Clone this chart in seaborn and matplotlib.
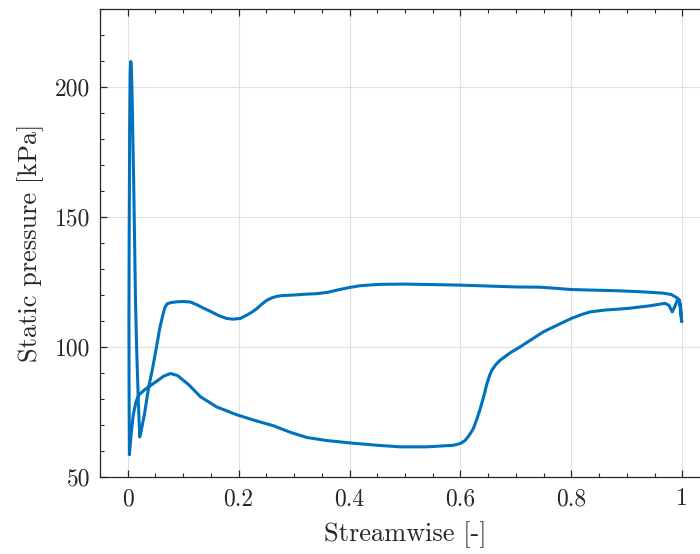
import matplotlib
matplotlib.use("Agg")
import matplotlib.pyplot as plt
import seaborn as sns
import pandas as pd
from matplotlib.ticker import MultipleLocator

# Upper branch (pressure side), trailing edge -> leading edge, then leading-edge spike
x_upper = [0.999, 0.997, 0.995, 0.990, 0.980, 0.966, 0.930, 0.888, 0.800, 0.770, 0.744, 0.700,
           0.600, 0.500, 0.455, 0.420, 0.400, 0.380, 0.360, 0.340, 0.320, 0.300, 0.280, 0.269,
           0.260, 0.251, 0.242, 0.233, 0.224, 0.215, 0.203, 0.190, 0.178, 0.165, 0.150, 0.140,
           0.125, 0.113, 0.100, 0.090, 0.078, 0.071, 0.067, 0.063, 0.058, 0.053, 0.045, 0.038,
           0.030, 0.024, 0.0216, 0.019, 0.016, 0.014, 0.011, 0.008, 0.0065, 0.0055, 0.0045,
           0.0035, 0.0026, 0.0022, 0.0025, 0.003]
p_upper = [109.8, 115.0, 117.5, 119.0, 120.2, 120.7, 121.2, 121.6, 122.1, 122.6, 123.0, 123.1,
           123.8, 124.2, 124.1, 123.6, 122.9, 122.0, 121.0, 120.5, 120.3, 120.0, 119.8, 119.5,
           118.9, 118.0, 116.5, 114.8, 113.4, 112.3, 111.0, 110.7, 111.0, 112.0, 113.6, 114.6,
           116.2, 117.3, 117.5, 117.4, 117.1, 116.6, 115.2, 112.0, 107.5, 101.4, 92.0, 84.8,
           74.0, 67.5, 65.4, 80.0, 100.0, 118.0, 160.0, 195.0, 208.0, 209.8, 206.0,
           185.0, 140.0, 110.0, 80.0, 58.6]

# Lower branch (suction side), leading edge -> trailing edge
x_lower = [0.003, 0.006, 0.010, 0.015, 0.020, 0.030, 0.050, 0.065, 0.077, 0.090, 0.110,
           0.131, 0.160, 0.197, 0.230, 0.263, 0.293, 0.323, 0.360, 0.401, 0.450, 0.491,
           0.540, 0.587, 0.600, 0.608, 0.615, 0.623, 0.630, 0.635, 0.642, 0.648, 0.653, 0.657,
           0.664, 0.672, 0.690, 0.708, 0.750, 0.800, 0.820, 0.834, 0.860, 0.900, 0.940, 0.969,
           0.976, 0.982, 0.987, 0.992, 0.995, 0.999]
p_lower = [58.6, 66.0, 74.0, 79.0, 81.5, 83.5, 86.5, 88.8, 89.8, 89.0, 85.5,
           80.9, 77.0, 73.9, 71.7, 69.7, 67.2, 65.2, 64.0, 63.1, 62.2, 61.6,
           61.6, 62.2, 62.9, 64.0, 65.8, 68.5, 72.5, 75.8, 81.0, 86.1, 89.3, 91.2,
           93.3, 95.0, 97.8, 100.1, 105.9, 111.0, 112.6, 113.5, 114.2, 114.8, 115.8, 116.8,
           116.0, 113.5, 115.8, 118.5, 118.0, 109.8]

x_ticks = [0, 0.2, 0.4, 0.6, 0.8, 1]
x_tick_labels = ["0", "0.2", "0.4", "0.6", "0.8", "1"]
y_ticks = [50, 100, 150, 200]
y_tick_labels = ["50", "100", "150", "200"]

df = pd.DataFrame({
    "x": x_upper + x_lower,
    "p": p_upper + p_lower,
})

sns.set_theme(style="white")
plt.rcParams["font.family"] = ["cmr10", "DejaVu Serif"]
plt.rcParams["axes.formatter.use_mathtext"] = True
plt.rcParams["axes.unicode_minus"] = False

fig = plt.figure(figsize=(7.0, 5.54), dpi=100)
ax = fig.add_axes([100 / 700, 77 / 554, 610 / 700, 468 / 554])

sns.lineplot(data=df, x="x", y="p", sort=False, estimator=None, ax=ax,
             color="#0072BD", linewidth=2.2)

ax.set_xlim(-0.05, 1.05)
ax.set_ylim(50, 230)
ax.set_xticks(x_ticks)
ax.set_xticklabels(x_tick_labels)
ax.set_yticks(y_ticks)
ax.set_yticklabels(y_tick_labels)
ax.xaxis.set_minor_locator(MultipleLocator(0.05))
ax.yaxis.set_minor_locator(MultipleLocator(10))

ax.grid(True, which="major", color="#e0e0e0", linewidth=0.8)
ax.set_axisbelow(True)

for s in ["left", "bottom", "top", "right"]:
    ax.spines[s].set_color("#262626")
    ax.spines[s].set_linewidth(0.9)

ax.tick_params(which="both", direction="in", top=True, right=True, bottom=True, left=True,
               colors="#262626", labelsize=17)
ax.tick_params(which="major", length=5, width=0.9)
ax.tick_params(which="minor", length=3, width=0.8)
ax.tick_params(axis="x", pad=8)
ax.tick_params(axis="y", pad=7)

ax.set_xlabel("Streamwise [-]", fontsize=19, color="#262626", labelpad=8)
ax.set_ylabel("Static pressure [kPa]", fontsize=19, color="#262626", labelpad=8)

fig.savefig("out.png", dpi=100)
